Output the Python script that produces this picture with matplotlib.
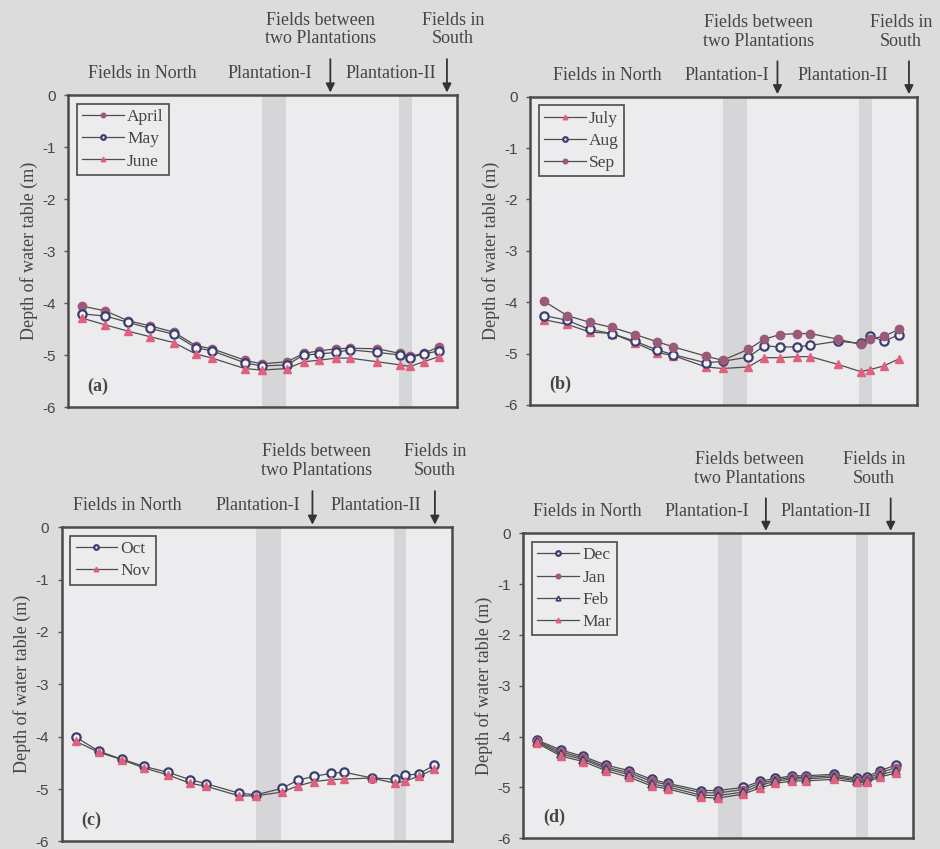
import matplotlib
matplotlib.use("Agg")
import matplotlib.pyplot as plt

# position of each observation field along the north-south transect (arbitrary units, 0-100)
x_pos = [3.6, 9.6, 15.4, 21.2, 27.2, 32.9, 37.1, 45.5, 49.8, 56.4, 60.6,
         64.6, 69.0, 72.5, 79.6, 85.5, 88.0, 91.5, 95.5]

# plantation strips (start, end) along the transect
plantation_1 = (49.8, 56.2)
plantation_2 = (85.2, 88.4)

# depth of water table (m)
april = [-4.06, -4.15, -4.34, -4.44, -4.56, -4.82, -4.88, -5.10, -5.17, -5.13,
         -4.97, -4.92, -4.88, -4.87, -4.88, -4.97, -5.02, -4.97, -4.84]
may = [-4.21, -4.25, -4.37, -4.49, -4.60, -4.86, -4.92, -5.15, -5.21, -5.19,
       -5.00, -4.98, -4.95, -4.90, -4.95, -5.00, -5.05, -4.98, -4.92]
june = [-4.29, -4.42, -4.54, -4.65, -4.76, -4.98, -5.06, -5.26, -5.29, -5.26,
        -5.13, -5.10, -5.06, -5.06, -5.13, -5.19, -5.22, -5.13, -5.03]

july = [-4.34, -4.43, -4.58, -4.61, -4.79, -4.98, -5.04, -5.26, -5.29, -5.26,
        -5.08, -5.08, -5.06, -5.06, -5.21, -5.35, -5.31, -5.24, -5.10]
aug = [-4.26, -4.35, -4.53, -4.61, -4.76, -4.93, -5.02, -5.18, -5.15, -5.07,
       -4.85, -4.87, -4.87, -4.84, -4.76, -4.80, -4.65, -4.76, -4.63]
sep = [-3.98, -4.26, -4.39, -4.49, -4.63, -4.77, -4.87, -5.05, -5.13, -4.92,
       -4.72, -4.63, -4.61, -4.61, -4.72, -4.82, -4.72, -4.66, -4.53]

octo = [-4.01, -4.28, -4.43, -4.57, -4.68, -4.82, -4.90, -5.08, -5.11, -4.99,
        -4.83, -4.76, -4.70, -4.68, -4.79, -4.81, -4.74, -4.71, -4.55]
nov = [-4.09, -4.30, -4.44, -4.60, -4.73, -4.89, -4.95, -5.13, -5.13, -5.06,
       -4.94, -4.86, -4.82, -4.81, -4.79, -4.89, -4.85, -4.76, -4.62]

dec = [-4.07, -4.26, -4.39, -4.56, -4.67, -4.84, -4.92, -5.06, -5.06, -5.00,
       -4.88, -4.82, -4.77, -4.77, -4.74, -4.82, -4.79, -4.67, -4.56]
jan = [-4.09, -4.30, -4.42, -4.60, -4.71, -4.88, -4.95, -5.10, -5.11, -5.04,
       -4.92, -4.85, -4.80, -4.80, -4.77, -4.85, -4.83, -4.71, -4.61]
feb = [-4.11, -4.34, -4.45, -4.63, -4.75, -4.93, -4.99, -5.15, -5.16, -5.09,
       -4.96, -4.88, -4.83, -4.83, -4.80, -4.87, -4.87, -4.75, -4.67]
mar = [-4.13, -4.38, -4.49, -4.67, -4.80, -4.97, -5.03, -5.19, -5.21, -5.13,
       -5.01, -4.92, -4.87, -4.87, -4.84, -4.90, -4.90, -4.79, -4.72]

LINE = "#4d4d4d"
FILLED = "#9a5a78"
OPEN_EDGE = "#3b3e70"
TRI = "#e0607e"
TEXT = "#454545"
SERIF = "Liberation Serif"
SANS = "Liberation Sans"

styles = {
    "filled": dict(marker="o", mfc=FILLED, mec=FILLED),
    "open": dict(marker="o", mfc="#f4f4f6", mec=OPEN_EDGE, mew=1.6),
    "tri": dict(marker="^", mfc=TRI, mec=TRI),
    "opentri": dict(marker="^", mfc="#f4f4f6", mec=OPEN_EDGE, mew=1.2),
}

panels = [
    dict(rect=[0.0723, 0.5206, 0.4135, 0.3675], tag="(a)",
         series=[("April", april, "filled"), ("May", may, "open"), ("June", june, "tri")],
         lab=dict(north=0.19, p1=0.52, a1=0.675, p2=0.83, a2=0.975, btw=0.65, south=0.99)),
    dict(rect=[0.5638, 0.5230, 0.4114, 0.3631], tag="(b)",
         series=[("July", july, "tri"), ("Aug", aug, "open"), ("Sep", sep, "filled")],
         lab=dict(north=0.20, p1=0.51, a1=0.64, p2=0.81, a2=0.98, btw=0.59, south=0.96)),
    dict(rect=[0.0656, 0.0090, 0.4149, 0.3700], tag="(c)",
         series=[("Oct", octo, "open"), ("Nov", nov, "tri")],
         lab=dict(north=0.169, p1=0.502, a1=0.643, p2=0.805, a2=0.957, btw=0.654, south=0.957)),
    dict(rect=[0.5567, 0.0126, 0.4149, 0.3592], tag="(d)",
         series=[("Dec", dec, "open"), ("Jan", jan, "filled"), ("Feb", feb, "opentri"), ("Mar", mar, "tri")],
         lab=dict(north=0.165, p1=0.47, a1=0.622, p2=0.776, a2=0.942, btw=0.581, south=0.899)),
]

fig = plt.figure(figsize=(9.4, 8.49), dpi=100, facecolor="#dcdcdc")

for p in panels:
    ax = fig.add_axes(p["rect"])
    ax.set_facecolor("#ececee")
    ax.axvspan(*plantation_1, color="#d6d6d8", lw=0, zorder=0)
    ax.axvspan(*plantation_2, color="#d6d6d8", lw=0, zorder=0)

    for name, vals, st in p["series"]:
        ax.plot(x_pos, vals, color=LINE, lw=0.9, ms=6, label=name, **styles[st])

    ax.set_xlim(0, 100)
    ax.set_ylim(-6, 0)
    ax.set_xticks([])
    ax.set_yticks(range(-6, 1))
    ax.set_yticklabels([str(v) for v in range(-6, 1)], family=SANS, fontsize=11, color=TEXT)
    ax.tick_params(axis="y", direction="out", length=3, width=1, color="#555555", pad=6)
    for s in ax.spines.values():
        s.set_color("#4a4a4a")
        s.set_linewidth(1.8)
    ax.set_ylabel("Depth of water table (m)", family=SERIF, fontsize=13, color=TEXT, labelpad=3)

    leg = ax.legend(loc="upper left", prop=dict(family=SERIF, size=12.5), frameon=True,
                    fancybox=False, edgecolor="#4a4a4a", facecolor="#ececee", framealpha=1,
                    markerscale=0.55, handlelength=2.4, handletextpad=0.2,
                    borderpad=0.3, labelspacing=0.35, borderaxespad=0.5)
    for t in leg.get_texts():
        t.set_color(TEXT)
    leg.get_frame().set_linewidth(1.2)

    ax.text(0.05, 0.04, p["tag"], transform=ax.transAxes, family=SERIF, fontsize=13,
            fontweight="bold", color=TEXT, va="bottom", ha="left")

    lab = p["lab"]
    tk = dict(transform=ax.transAxes, family=SERIF, fontsize=13, color=TEXT,
              ha="center", va="center", clip_on=False)
    ax.text(lab["north"], 1.07, "Fields in North", **tk)
    ax.text(lab["p1"], 1.07, "Plantation-I", **tk)
    ax.text(lab["p2"], 1.07, "Plantation-II", **tk)
    ax.text(lab["btw"], 1.21, "Fields between\ntwo Plantations", linespacing=1.15, **tk)
    ax.text(lab["south"], 1.21, "Fields in\nSouth", linespacing=1.15, **tk)
    for ax_x in (lab["a1"], lab["a2"]):
        ax.annotate("", xy=(ax_x, 1.008), xytext=(ax_x, 1.115), xycoords="axes fraction",
                    arrowprops=dict(arrowstyle="-|>", color="#333333", lw=1.3,
                                    mutation_scale=13, shrinkA=0, shrinkB=0))

fig.savefig("out.png", dpi=100, facecolor=fig.get_facecolor())
